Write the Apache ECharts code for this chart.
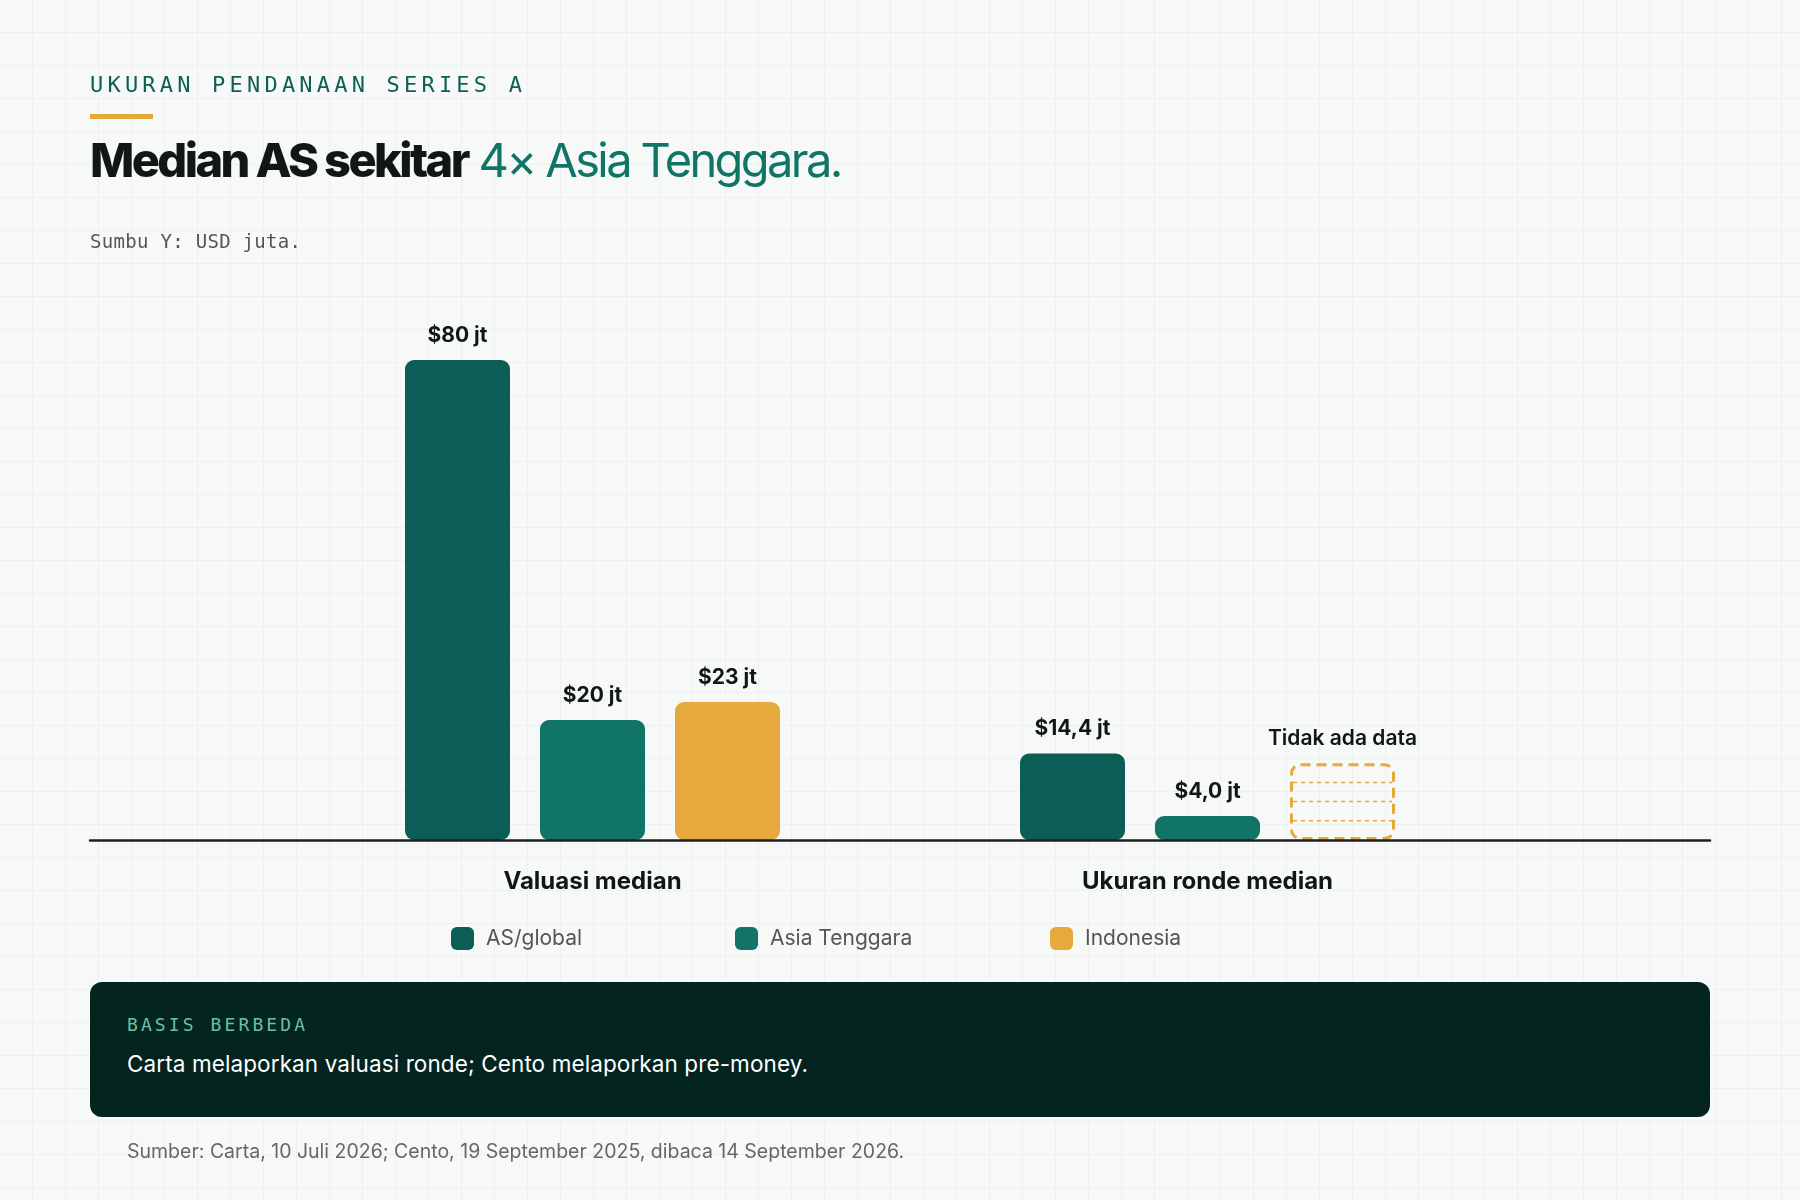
<!DOCTYPE html>
<html lang="id">
<head>
<meta charset="utf-8">
<title>Ukuran pendanaan Series A</title>
<script src="https://cdn.jsdelivr.net/npm/echarts@6/dist/echarts.min.js"></script>
<style>
    html, body {
        margin: 0;
        padding: 0;
    }
    body {
        width: 1800px;
        height: 1200px;
        position: relative;
        overflow: hidden;
        background-color: #F7F9F8;
        background-image:
            linear-gradient(to right, #ECF0EE 1.5px, transparent 1.5px),
            linear-gradient(to bottom, #ECF0EE 1.5px, transparent 1.5px);
        background-size: 33px 33px;
        background-position: -1px -1px;
        font-family: Inter, "Noto Sans", sans-serif;
    }
    #chart {
        position: absolute;
        left: 0;
        top: 0;
        width: 1800px;
        height: 1200px;
    }
    .abs {
        position: absolute;
        line-height: 1;
        white-space: nowrap;
    }
    .mono {
        font-family: "DejaVu Sans Mono", "Liberation Mono", monospace;
    }
    .eyebrow {
        left: 90px;
        top: 74px;
        font-size: 22px;
        letter-spacing: 4.2px;
        color: #0E5F55;
    }
    .rule {
        position: absolute;
        left: 90px;
        top: 114px;
        width: 63px;
        height: 5px;
        background: #E3A93C;
    }
    .title {
        left: 90px;
        top: 136px;
        font-size: 47px;
        letter-spacing: -2.6px;
        color: #111714;
    }
    .title b {
        font-weight: 800;
    }
    .title span {
        font-weight: 400;
        color: #107467;
    }
    .axis-note {
        left: 90px;
        top: 232px;
        font-size: 19px;
        letter-spacing: 0.3px;
        color: #555;
    }
    .note {
        position: absolute;
        left: 90px;
        top: 982px;
        width: 1620px;
        height: 135px;
        border-radius: 12px;
        background: #03241F;
    }
    .note-kicker {
        left: 127px;
        top: 1016px;
        font-size: 18px;
        letter-spacing: 3.1px;
        color: #6DBFA2;
    }
    .note-text {
        left: 127px;
        top: 1053px;
        font-size: 22.5px;
        letter-spacing: 0.1px;
        color: #FFFFFF;
    }
    .source {
        left: 127px;
        top: 1142px;
        font-size: 19.5px;
        color: #666;
    }
</style>
</head>
<body>
<div id="chart"></div>
<div class="abs mono eyebrow">UKURAN PENDANAAN SERIES A</div>
<div class="rule"></div>
<div class="abs title"><b>Median AS sekitar</b> <span>4× Asia Tenggara.</span></div>
<div class="abs mono axis-note">Sumbu Y: USD juta.</div>
<div class="note"></div>
<div class="abs mono note-kicker">BASIS BERBEDA</div>
<div class="abs note-text">Carta melaporkan valuasi ronde; Cento melaporkan pre-money.</div>
<div class="abs source">Sumber: Carta, 10 Juli 2026; Cento, 19 September 2025, dibaca 14 September 2026.</div>
<script>
// values in USD million
const categories = ["Valuasi median", "Ukuran ronde median"];
const seriesNames = ["AS/global", "Asia Tenggara", "Indonesia"];
const asGlobal = [80, 14.4];
const asiaTenggara = [20, 4.0];
const indonesia = [23, null];
const labelDecimals = [0, 1];
// Indonesia has no round-size figure: drawn as an empty dashed box
const noData = [[1, 12.8]];
const noDataText = "Tidak ada data";

const colors = ["#0B5E56", "#107467", "#E6A93D"];
const BAR_W = 105;
const BAR_GAP = 30;
const FONT = "Inter, 'Noto Sans', sans-serif";

function valueLabel(params) {
    const v = params.value.toFixed(labelDecimals[params.dataIndex]).replace(".", ",");
    return `$${v} jt`;
}

function barSeries(name, data, color) {
    return {
        name: name,
        type: "bar",
        data: data,
        barWidth: BAR_W,
        barGap: (BAR_GAP / BAR_W * 100).toFixed(2) + "%",
        itemStyle: {color: color, borderRadius: 9},
        label: {
            show: true,
            position: "top",
            distance: 14,
            formatter: valueLabel,
            fontFamily: FONT,
            fontSize: 21,
            fontWeight: 700,
            color: "#111714"
        },
        z: 2
    };
}

function renderNoData(params, api) {
    const cat = api.value(0);
    const top = api.coord([cat, api.value(1)]);
    const base = api.coord([cat, 0]);
    // third slot of the group, same layout as the bars
    const cx = top[0] + BAR_W + BAR_GAP;
    const x = cx - BAR_W / 2 + 1.5;
    const w = BAR_W - 3;
    const y = top[1] + 1.5;
    const h = base[1] - top[1] - 3;
    const children = [{
        type: "rect",
        shape: {x: x, y: y, width: w, height: h, r: 9},
        style: {fill: "none", stroke: colors[2], lineWidth: 3, lineDash: [10, 6]}
    }];
    for (let i = 1; i < 4; i++) {
        const ly = top[1] + (base[1] - top[1]) * i / 4;
        children.push({
            type: "line",
            shape: {x1: x + 1.5, y1: ly, x2: x + w - 1.5, y2: ly},
            style: {stroke: colors[2], lineWidth: 1.5, lineDash: [4, 4]}
        });
    }
    children.push({
        type: "text",
        style: {
            text: noDataText,
            x: cx,
            y: top[1] - 14,
            align: "center",
            verticalAlign: "bottom",
            font: `600 21px ${FONT}`,
            fill: "#111714"
        }
    });
    return {type: "group", children: children};
}

function legendAt(name, left) {
    return {
        data: [name],
        left: left,
        top: 927,
        padding: 0,
        icon: "roundRect",
        itemWidth: 23,
        itemHeight: 23,
        selectedMode: false,
        textStyle: {
            fontFamily: FONT,
            fontSize: 21,
            color: "#555",
            padding: [0, 0, 0, 7]
        }
    };
}

const chart = echarts.init(document.getElementById("chart"), null, {renderer: "canvas"});
chart.setOption({
    backgroundColor: "transparent",
    animation: false,
    color: colors,
    legend: [
        legendAt(seriesNames[0], 451),
        legendAt(seriesNames[1], 735),
        legendAt(seriesNames[2], 1050)
    ],
    grid: [
        {left: 285, right: 285, top: 300, bottom: 360},
        {left: 90, right: 90, top: 300, bottom: 360}
    ],
    xAxis: [{
        type: "category",
        data: categories,
        gridIndex: 0,
        axisLine: {show: false},
        axisTick: {show: false},
        axisLabel: {
            margin: 30,
            fontFamily: FONT,
            fontSize: 24,
            fontWeight: 700,
            color: "#111714"
        }
    }, {
        type: "value",
        gridIndex: 1,
        min: 0,
        max: 1,
        z: 10,
        axisLine: {show: true, lineStyle: {color: "#1B1F1D", width: 2.5}},
        axisTick: {show: false},
        axisLabel: {show: false},
        splitLine: {show: false}
    }],
    yAxis: [
        {type: "value", gridIndex: 0, min: 0, max: 90, show: false},
        {type: "value", gridIndex: 1, min: 0, max: 1, show: false}
    ],
    series: [
        barSeries(seriesNames[0], asGlobal, colors[0]),
        barSeries(seriesNames[1], asiaTenggara, colors[1]),
        barSeries(seriesNames[2], indonesia, colors[2]),
        {
            name: "noData",
            type: "custom",
            data: noData,
            renderItem: renderNoData,
            clip: false,
            silent: true,
            z: 3
        }
    ]
});
</script>
</body>
</html>
